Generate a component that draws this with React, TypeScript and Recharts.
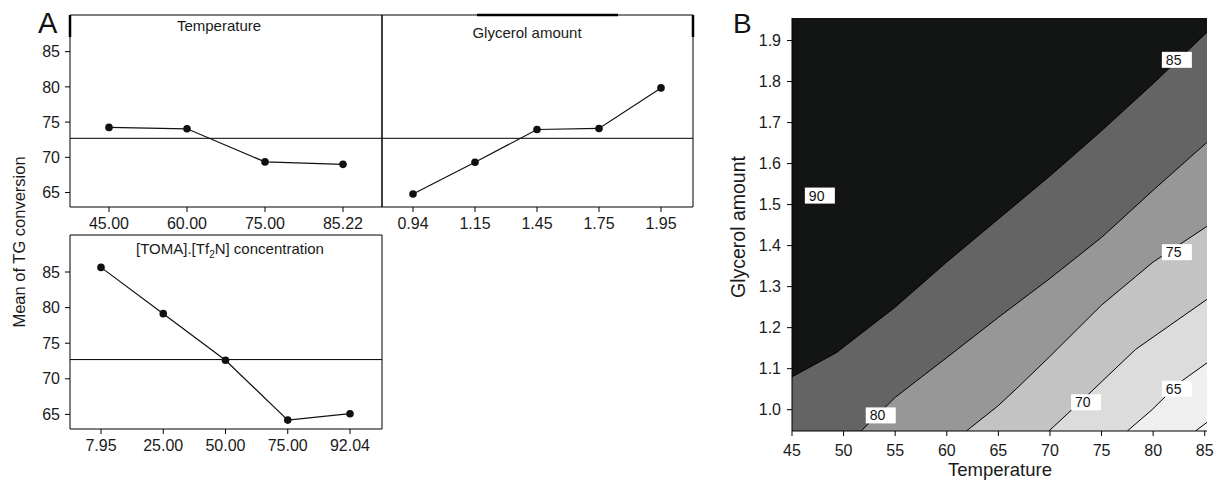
import React from 'react';
import {
  LineChart,
  Line,
  XAxis,
  YAxis,
  ReferenceLine,
  ComposedChart,
  Area,
  Scatter,
  CartesianGrid,
} from 'recharts';

const FONT = '"Liberation Sans", Arial, Helvetica, sans-serif';
const INK = '#111111';

// ---------- Panel A: main effects ----------
const temperatureLevels = ['45.00', '60.00', '75.00', '85.22'];
const temperatureMeans = [74.25, 74.05, 69.35, 69.0];
const glycerolLevels = ['0.94', '1.15', '1.45', '1.75', '1.95'];
const glycerolMeans = [64.8, 69.3, 73.95, 74.1, 79.85];
const ilLevels = ['7.95', '25.00', '50.00', '75.00', '92.04'];
const ilMeans = [85.65, 79.15, 72.6, 64.2, 65.1];
const grandMean = 72.7;
const meanTicks = [65, 70, 75, 80, 85];
const meanDomain: [number, number] = [62.95, 90.2];

// ---------- Panel B: contour plot ----------
const tempTicks = [45, 50, 55, 60, 65, 70, 75, 80, 85];
const glyTicks = [1.0, 1.1, 1.2, 1.3, 1.4, 1.5, 1.6, 1.7, 1.8, 1.9];
const tempDomain: [number, number] = [45, 85.22];
const glyDomain: [number, number] = [0.948, 1.955];

// contour boundaries (Temperature, Glycerol amount)
const contour1T = [45, 49.3, 55, 60, 65, 70, 75, 80, 85.22];
const contour1G = [1.08, 1.139, 1.25, 1.36, 1.465, 1.57, 1.68, 1.795, 1.92];
const contour2T = [51.7, 55, 60, 65, 70, 75, 80, 85.22];
const contour2G = [0.948, 1.03, 1.127, 1.225, 1.32, 1.42, 1.535, 1.652];
const contour3T = [61.9, 65, 67, 70, 75, 80, 85.22];
const contour3G = [0.948, 1.01, 1.057, 1.13, 1.255, 1.36, 1.447];
const contour4T = [69.9, 73.5, 78.3, 85.22];
const contour4G = [0.948, 1.032, 1.147, 1.269];
const contour5T = [77.5, 79.9, 82.5, 85.22];
const contour5G = [0.948, 1.0, 1.065, 1.114];
const contour6T = [84.1, 85.22];
const contour6G = [0.948, 0.969];
const contourFills = ['#646464', '#979797', '#c3c3c3', '#dcdcdc', '#efefef', '#f7f7f7'];
const topFill = '#131514';

const contourLabelText = ['90', '85', '80', '75', '70', '65'];
const contourLabelT = [47.7, 82.3, 53.6, 82.3, 73.5, 82.3];
const contourLabelG = [1.522, 1.853, 0.986, 1.384, 1.018, 1.051];

const boundaries = [
  { T: contour1T, G: contour1G },
  { T: contour2T, G: contour2G },
  { T: contour3T, G: contour3G },
  { T: contour4T, G: contour4G },
  { T: contour5T, G: contour5G },
  { T: contour6T, G: contour6G },
];

const allT = Array.from(new Set(boundaries.flatMap((b) => b.T))).sort((a, b) => a - b);
const contourData = allT.map((t) => {
  const row: Record<string, number | null> = { T: t };
  boundaries.forEach((b, i) => {
    const j = b.T.indexOf(t);
    row['b' + i] = j >= 0 ? b.G[j] : null;
  });
  return row;
});

const labelData = contourLabelText.map((label, i) => ({
  T: contourLabelT[i],
  G: contourLabelG[i],
  label,
}));

const makeRows = (levels: string[], means: number[]) =>
  levels.map((level, i) => ({ level, mean: means[i] }));

const tempRows = makeRows(temperatureLevels, temperatureMeans);
const glyRows = makeRows(glycerolLevels, glycerolMeans);
const ilRows = makeRows(ilLevels, ilMeans);

const tickStyle = { fill: '#1a1a1a', fontSize: 16, fontFamily: FONT };
const lineStroke = { stroke: '#000', strokeWidth: 1 };

type PanelProps = {
  rows: { level: string; mean: number }[];
  width: number;
  height: number;
  margin: { top: number; right: number; bottom: number; left: number };
  yWidth: number;
  showYTicks: boolean;
  xHeight: number;
  padLeft: number;
  padRight: number;
};

function EffectPanel(p: PanelProps) {
  return (
    <LineChart width={p.width} height={p.height} data={p.rows} margin={p.margin}>
      <XAxis
        dataKey="level"
        interval={0}
        tickSize={5}
        tickMargin={6}
        height={p.xHeight}
        padding={{ left: p.padLeft, right: p.padRight }}
        axisLine={lineStroke}
        tickLine={lineStroke}
        tick={tickStyle}
      />
      <XAxis
        xAxisId="top"
        dataKey="level"
        orientation="top"
        height={1}
        tick={false}
        tickLine={false}
        axisLine={lineStroke}
      />
      <YAxis
        domain={meanDomain}
        allowDataOverflow
        ticks={meanTicks}
        width={p.yWidth}
        tickSize={5}
        tickMargin={5}
        tick={p.showYTicks ? tickStyle : false}
        tickLine={p.showYTicks ? lineStroke : false}
        axisLine={lineStroke}
      />
      <YAxis
        yAxisId="right"
        orientation="right"
        domain={meanDomain}
        width={1}
        tick={false}
        tickLine={false}
        axisLine={lineStroke}
      />
      <ReferenceLine y={grandMean} stroke="#000" strokeWidth={1} />
      <Line
        dataKey="mean"
        type="linear"
        stroke={INK}
        strokeWidth={1.2}
        dot={{ r: 3.8, fill: INK, stroke: INK, strokeWidth: 0 }}
        activeDot={false}
        isAnimationActive={false}
      />
    </LineChart>
  );
}

const renderLabelBox = (props: any) => {
  const { cx, cy, payload } = props;
  if (cx == null || cy == null) return <g />;
  return (
    <g>
      <rect x={cx - 15} y={cy - 8} width={30} height={16} fill="#ffffff" />
      <text x={cx - 11} y={cy + 5} fontSize={14} fontFamily={FONT} fill="#111">
        {payload.label}
      </text>
    </g>
  );
};

export default function App() {
  return (
    <div
      style={{
        position: 'absolute',
        left: 0,
        top: 0,
        width: 1216,
        height: 481,
        background: '#ffffff',
        fontFamily: FONT,
        overflow: 'hidden',
      }}
    >
      <div style={{ position: 'absolute', left: 0, top: 0 }}>
        <EffectPanel
          rows={tempRows}
          width={390}
          height={240}
          margin={{ top: 14, right: 7, bottom: 0, left: 0 }}
          yWidth={70}
          showYTicks
          xHeight={33}
          padLeft={39}
          padRight={39}
        />
      </div>
      <div style={{ position: 'absolute', left: 381, top: 0 }}>
        <EffectPanel
          rows={glyRows}
          width={321}
          height={240}
          margin={{ top: 14, right: 8, bottom: 0, left: 0 }}
          yWidth={1}
          showYTicks={false}
          xHeight={33}
          padLeft={31}
          padRight={32}
        />
      </div>
      <div style={{ position: 'absolute', left: 0, top: 220 }}>
        <EffectPanel
          rows={ilRows}
          width={390}
          height={240}
          margin={{ top: 14, right: 7, bottom: 0, left: 0 }}
          yWidth={70}
          showYTicks
          xHeight={31}
          padLeft={31}
          padRight={32}
        />
      </div>

      <div style={{ position: 'absolute', left: 720, top: 0 }}>
        <ComposedChart
          width={496}
          height={481}
          data={contourData}
          margin={{ top: 18, right: 9, bottom: 0, left: 0 }}
        >
          <CartesianGrid fill={topFill} horizontal={false} vertical={false} />
          <XAxis
            dataKey="T"
            type="number"
            domain={tempDomain}
            allowDataOverflow
            ticks={tempTicks}
            interval={0}
            height={50}
            tickSize={5}
            tickMargin={9}
            axisLine={lineStroke}
            tickLine={lineStroke}
            tick={{ fill: '#1a1a1a', fontSize: 16, fontFamily: FONT }}
          />
          <YAxis
            type="number"
            domain={glyDomain}
            allowDataOverflow
            ticks={glyTicks}
            interval={0}
            width={72}
            tickSize={5}
            tickMargin={6}
            tickFormatter={(v: number) => v.toFixed(1)}
            axisLine={lineStroke}
            tickLine={lineStroke}
            tick={{ fill: '#1a1a1a', fontSize: 16, fontFamily: FONT }}
          />
          {contourFills.map((fill, i) => (
            <Area
              key={'b' + i}
              dataKey={'b' + i}
              type="linear"
              baseValue={glyDomain[0]}
              fill={fill}
              fillOpacity={1}
              stroke="#000"
              strokeWidth={1}
              connectNulls
              dot={false}
              activeDot={false}
              isAnimationActive={false}
            />
          ))}
          <Scatter
            data={labelData}
            dataKey="G"
            shape={renderLabelBox}
            isAnimationActive={false}
          />
        </ComposedChart>
      </div>

      <svg
        width={1216}
        height={481}
        style={{ position: 'absolute', left: 0, top: 0, pointerEvents: 'none' }}
      >
        <line x1={70} y1={15} x2={70} y2={37} stroke="#000" strokeWidth={2.5} />
        <line x1={477} y1={15} x2={618} y2={15} stroke="#000" strokeWidth={2.5} />
        <line x1={693} y1={15} x2={693} y2={37} stroke="#000" strokeWidth={2.5} />
        <text x={38} y={33} fontSize={29} fontFamily={FONT} fill="#111">A</text>
        <text x={733} y={33} fontSize={28} fontFamily={FONT} fill="#111">B</text>
        <text x={219} y={31} fontSize={15} fontFamily={FONT} fill="#1a1a1a" textAnchor="middle">
          Temperature
        </text>
        <text x={527} y={38} fontSize={15} fontFamily={FONT} fill="#1a1a1a" textAnchor="middle">
          Glycerol amount
        </text>
        <text x={230} y={254} fontSize={15} fontFamily={FONT} fill="#1a1a1a" textAnchor="middle">
          [TOMA].[Tf
          <tspan fontSize={10} dy={4}>2</tspan>
          <tspan dy={-4}>N] concentration</tspan>
        </text>
        <text
          x={25}
          y={242}
          fontSize={16.5}
          fontFamily={FONT}
          fill="#1a1a1a"
          textAnchor="middle"
          transform="rotate(-90 25 242)"
        >
          Mean of TG conversion
        </text>
        <text
          x={745}
          y={227}
          fontSize={19.5}
          fontFamily={FONT}
          fill="#1a1a1a"
          textAnchor="middle"
          transform="rotate(-90 745 227)"
        >
          Glycerol amount
        </text>
        <text x={1000} y={476} fontSize={18.5} fontFamily={FONT} fill="#1a1a1a" textAnchor="middle">
          Temperature
        </text>
      </svg>
    </div>
  );
}
